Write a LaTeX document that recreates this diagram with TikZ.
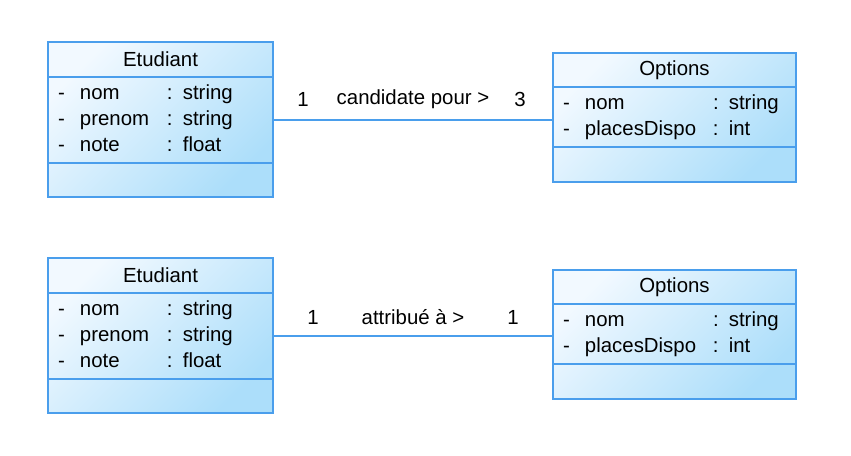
\documentclass[tikz,border=0pt]{standalone}
\usepackage{fontspec}
\setmainfont{Liberation Sans}
\usepackage{tikz}
\usetikzlibrary{positioning, fit, backgrounds}

\definecolor{umlline}{RGB}{74,158,236}
\definecolor{umltop}{RGB}{242,249,255}
\definecolor{umlbot}{RGB}{172,222,250}

\begin{document}
\begin{tikzpicture}[
  txt/.style={font=\fontsize{10.2}{13}\selectfont, text=black},
  part/.style={rectangle, draw=umlline, line width=0.6pt, outer sep=0pt,
               inner ysep=0pt, inner xsep=5pt, txt},
  head/.style={part, minimum height=17.5pt},
  attrs/.style={part, minimum height=43pt, align=left},
  ops/.style={part, minimum height=17pt},
  etubox/.style={minimum width=112.5pt},
  optbox/.style={minimum width=121.5pt},
  classbg/.style={rectangle, inner sep=0pt, outer sep=0pt, top color=umltop,
                  bottom color=umlbot, shading angle=45},
  lbl/.style={txt, inner sep=0pt},
  assoc/.style={draw=umlline, line width=0.6pt},
  node distance=0pt
]
  \useasboundingbox (0,0) rectangle (425.5pt,-227.5pt);

  % first pair: candidate pour
  \node[head, etubox, anchor=north west] (etu1) at (24pt,-21pt) {Etudiant};
  \node[attrs, etubox, text width=102.5pt, below=of etu1] (etu1a)
    {\begin{tabular}{@{}p{11pt}@{}p{43.5pt}@{}l@{}}
      - & nom & : string\\
      - & prenom & : string\\
      - & note & : float
    \end{tabular}};
  \node[ops, etubox, below=of etu1a] (etu1o) {};

  \node[head, optbox, minimum height=17pt, anchor=north west] (opt1) at (276.5pt,-26.5pt) {Options};
  \node[attrs, optbox, text width=111.5pt, minimum height=30pt, below=of opt1] (opt1a)
    {\begin{tabular}{@{}p{11pt}@{}p{64pt}@{}l@{}}
      - & nom & : string\\
      - & placesDispo & : int
    \end{tabular}};
  \node[ops, optbox, minimum height=17.5pt, below=of opt1a] (opt1o) {};

  % second pair: attribue a
  \node[head, etubox, anchor=north west] (etu2) at (24pt,-129pt) {Etudiant};
  \node[attrs, etubox, text width=102.5pt, below=of etu2] (etu2a)
    {\begin{tabular}{@{}p{11pt}@{}p{43.5pt}@{}l@{}}
      - & nom & : string\\
      - & prenom & : string\\
      - & note & : float
    \end{tabular}};
  \node[ops, etubox, below=of etu2a] (etu2o) {};

  \node[head, optbox, minimum height=17pt, anchor=north west] (opt2) at (276.5pt,-135pt) {Options};
  \node[attrs, optbox, text width=111.5pt, minimum height=30pt, below=of opt2] (opt2a)
    {\begin{tabular}{@{}p{11pt}@{}p{64pt}@{}l@{}}
      - & nom & : string\\
      - & placesDispo & : int
    \end{tabular}};
  \node[ops, optbox, minimum height=17.5pt, below=of opt2a] (opt2o) {};

  \begin{scope}[on background layer]
    \node[classbg, fit=(etu1)(etu1o)] (etu1bg) {};
    \node[classbg, fit=(opt1)(opt1o)] (opt1bg) {};
    \node[classbg, fit=(etu2)(etu2o)] (etu2bg) {};
    \node[classbg, fit=(opt2)(opt2o)] (opt2bg) {};
  \end{scope}

  % associations
  \coordinate (end1) at (etu1a.east -| opt1a.west);
  \draw[assoc] (etu1a.east) -- (end1);
  \node[lbl] (mul1l) at ([shift={(15pt,10.5pt)}]etu1a.east) {1};
  \node[lbl] (role1) at ([shift={(70pt,10.5pt)}]etu1a.east) {candidate pour >};
  \node[lbl] (mul1r) at ([shift={(-16.5pt,10.5pt)}]end1) {3};

  \coordinate (end2) at (etu2a.east -| opt2a.west);
  \draw[assoc] (etu2a.east) -- (end2);
  \node[lbl] (mul2l) at ([shift={(20pt,9.5pt)}]etu2a.east) {1};
  \node[lbl] (role2) at ([shift={(70pt,9.5pt)}]etu2a.east) {attribué à >};
  \node[lbl] (mul2r) at ([shift={(-20pt,9.5pt)}]end2) {1};
\end{tikzpicture}
\end{document}
